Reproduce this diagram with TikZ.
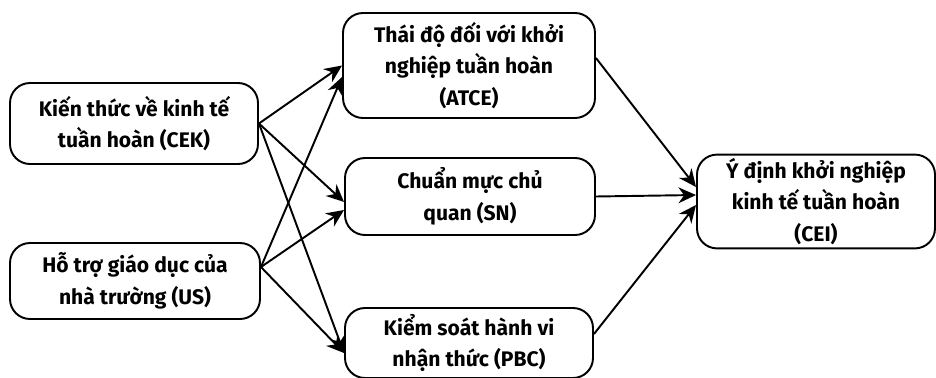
\documentclass[tikz,border=0pt]{standalone}
\usepackage{fontspec}
\setmainfont{Fira Sans}
\usetikzlibrary{arrows.meta}
\tikzset{
every node/.style=
    {rectangle,rounded corners=0.4cm,
    draw=black,
    line width=1.1pt,
    align=center,
    font=\fontsize{12}{18}\selectfont\bfseries,
    inner sep=2pt
    },
arr/.style=
    {-{Stealth[length=10pt,width=9pt]},
    line width=1.1pt
    }}

\begin{document}
\begin{tikzpicture}
\useasboundingbox (0,0) rectangle (18.72,-7.56);
% left column
\node[minimum width=4.96cm,minimum height=1.62cm] (cek) at (2.68,-2.47) {Kiến thức về kinh tế\\tuần hoàn (CEK)};
\node[minimum width=5.0cm,minimum height=1.52cm] (us) at (2.7,-5.62) {Hỗ trợ giáo dục của\\nhà trường (US)};
% middle column
\node[minimum width=5.04cm,minimum height=2.1cm] (atce) at (9.38,-1.31) {Thái độ đối với khởi\\nghiệp tuần hoàn\\(ATCE)};
\node[minimum width=5.0cm,minimum height=1.54cm] (sn) at (9.4,-3.93) {Chuẩn mực chủ\\quan (SN)};
\node[minimum width=4.96cm,minimum height=1.4cm] (pbc) at (9.38,-6.86) {Kiểm soát hành vi\\nhận thức (PBC)};
% outcome
\node[minimum width=4.76cm,minimum height=1.86cm] (cei) at (16.32,-4.03) {Ý định khởi nghiệp\\kinh tế tuần hoàn\\(CEI)};

\draw[arr] (cek.east) -- (atce.west);
\draw[arr] (cek.east) -- ([yshift=-0.11cm]sn.west);
\draw[arr] (cek.east) -- ([yshift=-0.2cm]pbc.west);
\draw[arr] ([yshift=0.28cm]us.east) -- ([yshift=-0.23cm]atce.west);
\draw[arr] ([yshift=0.28cm]us.east) -- ([yshift=-0.27cm]sn.west);
\draw[arr] ([yshift=0.28cm]us.east) -- ([yshift=-0.2cm]pbc.west);
\draw[arr] ([yshift=0.15cm]atce.east) -- ([yshift=0.29cm]cei.west);
\draw[arr] (sn.east) -- ([yshift=0.13cm]cei.west);
\draw[arr] ([yshift=0.18cm]pbc.east) -- ([yshift=-0.07cm]cei.west);
\end{tikzpicture}
\end{document}
